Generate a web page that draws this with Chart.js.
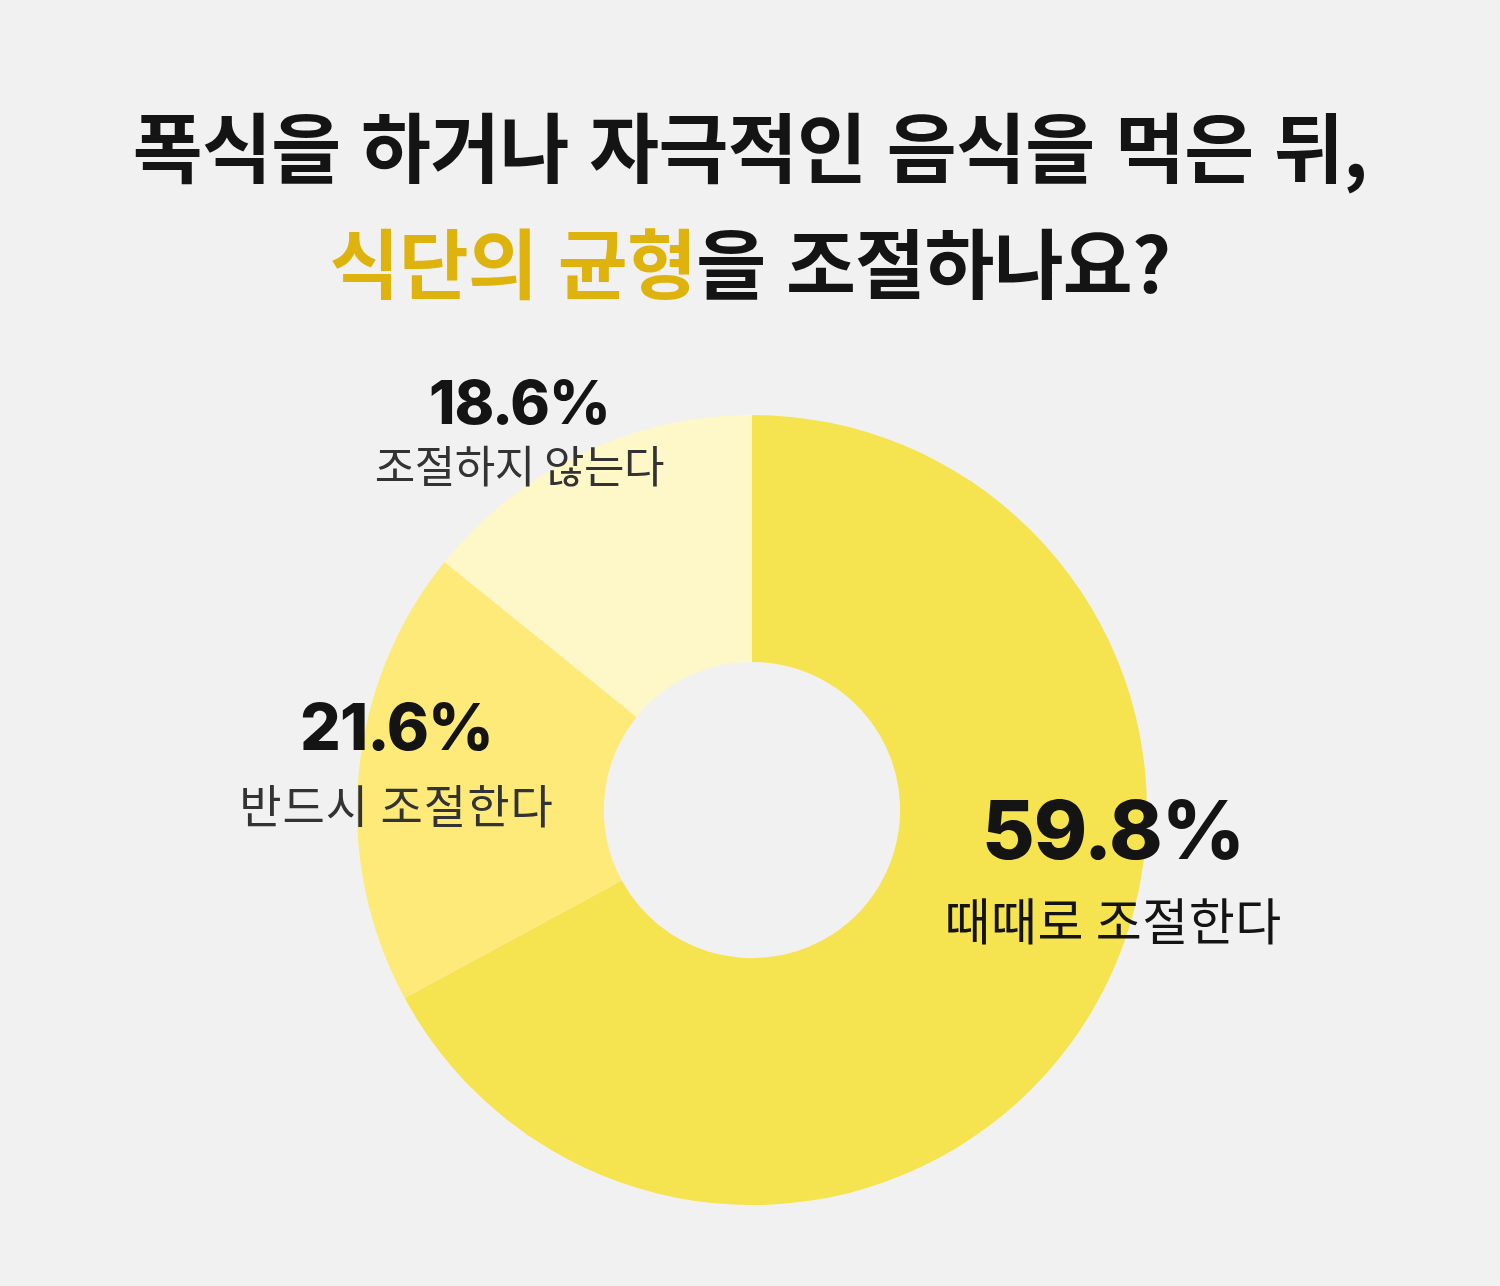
<!DOCTYPE html>
<html lang="ko">
<head>
<meta charset="utf-8">
<title>식단의 균형 조절</title>
<script src="https://cdn.jsdelivr.net/npm/chart.js@4"></script>
<style>
  html, body { margin: 0; padding: 0; background: #f1f1f1; }
  #wrap { position: relative; width: 1500px; height: 1286px; overflow: hidden; }
  #title {
    position: absolute; left: 0; top: 86px; width: 1500px; text-align: center;
    font-family: "Noto Sans CJK KR", sans-serif; font-weight: 700;
    font-size: 76px; line-height: 116px; letter-spacing: -0.7px; color: #141414;
  }
  #title .hl { color: #dfb30d; }
  #chartBox { position: absolute; left: 0; top: 0; width: 1500px; height: 1286px; }
</style>
</head>
<body>
<div id="wrap">
  <div id="title">폭식을 하거나 자극적인 음식을 먹은 뒤,<br><span class="hl">식단의 균형</span>을 조절하나요?</div>
  <div id="chartBox"><canvas id="pie"></canvas></div>
</div>
<script>
// 응답 항목
const labels = ['때때로 조절한다', '반드시 조절한다', '조절하지 않는다'];
// 표시된 비율 (%)
const percents = [59.8, 21.6, 18.6];
// 그림에 실제로 그려진 조각 크기 (각도에서 읽음)
const sliceShares = [67.1, 18.7, 14.2];
const colors = ['#f5e34f', '#fdea79', '#fef7c7'];

// 라벨 위치 (중심 기준, 반지름 단위), 글자 크기
const labelPos = [
  { dx: 0.914, numDy: 0.125, txtDy: 0.328, big: 81, small: 50, ls: '0.5px', color: '#141414' },
  { dx: -0.90, numDy: -0.151, txtDy: 0.034, big: 64, small: 46, ls: '1px', color: '#333333' },
  { dx: -0.589, numDy: -0.976, txtDy: -0.827, big: 60, small: 44, ls: '-0.5px', color: '#333333' }
];

const labelPlugin = {
  id: 'sliceLabels',
  afterDraw(chart) {
    const arc = chart.getDatasetMeta(0).data[0];
    const cx = arc.x, cy = arc.y, r = arc.outerRadius;
    const ctx = chart.ctx;
    ctx.save();
    ctx.textAlign = 'center';
    ctx.textBaseline = 'alphabetic';
    percents.forEach((p, i) => {
      const lp = labelPos[i];
      const x = cx + lp.dx * r;
      ctx.fillStyle = '#141414';
      ctx.font = '800 ' + lp.big + 'px Inter, sans-serif';
      ctx.letterSpacing = '-1px';
      ctx.fillText(p.toFixed(1) + '%', x, cy + lp.numDy * r);
      ctx.fillStyle = lp.color;
      ctx.font = '400 ' + lp.small + 'px "Noto Sans CJK KR", sans-serif';
      ctx.letterSpacing = lp.ls;
      ctx.fillText(labels[i], x, cy + lp.txtDy * r);
    });
    ctx.restore();
  }
};

new Chart(document.getElementById('pie'), {
  type: 'doughnut',
  data: {
    labels: labels,
    datasets: [{
      data: sliceShares,
      backgroundColor: colors,
      borderWidth: 0
    }]
  },
  options: {
    responsive: true,
    maintainAspectRatio: false,
    animation: false,
    cutout: '37.5%',
    layout: { padding: { left: 357, right: 353, top: 415, bottom: 81 } },
    plugins: {
      legend: { display: false },
      tooltip: { enabled: false }
    }
  },
  plugins: [labelPlugin]
});
</script>
</body>
</html>
